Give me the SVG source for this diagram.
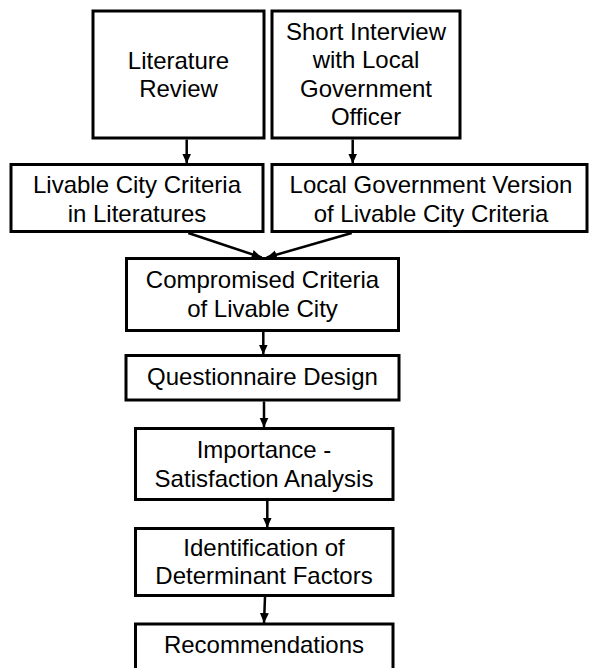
<svg xmlns="http://www.w3.org/2000/svg" width="589" height="668" viewBox="0 0 589 668">
<style>
.box{fill:#fff;stroke:#000;stroke-width:3}
.t{font-family:"Liberation Sans",Arial,sans-serif;font-size:24px;fill:#000;text-anchor:middle}
.c{stroke:#000;stroke-width:2.5;fill:none;marker-end:url(#ah)}
</style>
<defs>
<marker id="ah" markerUnits="userSpaceOnUse" markerWidth="10" markerHeight="10" viewBox="0 0 10 10" refX="10" refY="5" orient="auto">
<path d="M0,0.5 L10,5 L0,9.5 z" fill="#000"/>
</marker>
</defs>
<rect width="589" height="668" fill="#fff"/>
<g id="connectors">
<line class="c" x1="186.7" y1="139.5" x2="186.7" y2="163.5"/>
<line class="c" x1="352.7" y1="139.5" x2="352.7" y2="163.5"/>
<line class="c" x1="188.3" y1="233" x2="261.7" y2="257.5"/>
<line class="c" x1="351.7" y1="233" x2="266.7" y2="257.5"/>
<line class="c" x1="263.3" y1="332" x2="263.3" y2="354.5"/>
<line class="c" x1="264" y1="401.5" x2="264" y2="427.5"/>
<line class="c" x1="267.3" y1="501" x2="267.3" y2="527.5"/>
<line class="c" x1="265" y1="597" x2="264" y2="623"/>
</g>
<g id="literature-review">
<rect class="box" x="93" y="11" width="171" height="127"/>
<text class="t" x="178.5" y="68.5">Literature</text>
<text class="t" x="178.5" y="97">Review</text>
</g>
<g id="short-interview">
<rect class="box" x="272" y="11" width="188" height="127"/>
<text class="t" x="366" y="39.5">Short Interview</text>
<text class="t" x="366" y="68">with Local</text>
<text class="t" x="366" y="96.5">Government</text>
<text class="t" x="366" y="125">Officer</text>
</g>
<g id="livable-literatures">
<rect class="box" x="11" y="164.5" width="252" height="67"/>
<text class="t" x="137" y="193.3">Livable City Criteria</text>
<text class="t" x="137" y="221.7">in Literatures</text>
</g>
<g id="local-government-version">
<rect class="box" x="272" y="164.5" width="315" height="67"/>
<text class="t" x="431" y="193.3">Local Government Version</text>
<text class="t" x="431" y="221.7">of Livable City Criteria</text>
</g>
<g id="compromised-criteria">
<rect class="box" x="126.5" y="258.5" width="272" height="72"/>
<text class="t" x="262.5" y="288.3">Compromised Criteria</text>
<text class="t" x="262.5" y="316.7">of Livable City</text>
</g>
<g id="questionnaire-design">
<rect class="box" x="126" y="355.5" width="273" height="44.5"/>
<text class="t" x="262.5" y="385">Questionnaire Design</text>
</g>
<g id="importance-satisfaction">
<rect class="box" x="135.5" y="428.5" width="257.5" height="71"/>
<text class="t" x="264" y="458.3">Importance -</text>
<text class="t" x="264" y="486.7">Satisfaction Analysis</text>
</g>
<g id="determinant-factors">
<rect class="box" x="135.5" y="528.5" width="257.5" height="67"/>
<text class="t" x="264" y="555.7">Identification of</text>
<text class="t" x="264" y="584">Determinant Factors</text>
</g>
<g id="recommendations">
<rect class="box" x="135.5" y="624" width="257.5" height="60"/>
<text class="t" x="264" y="653.3">Recommendations</text>
</g>
</svg>
